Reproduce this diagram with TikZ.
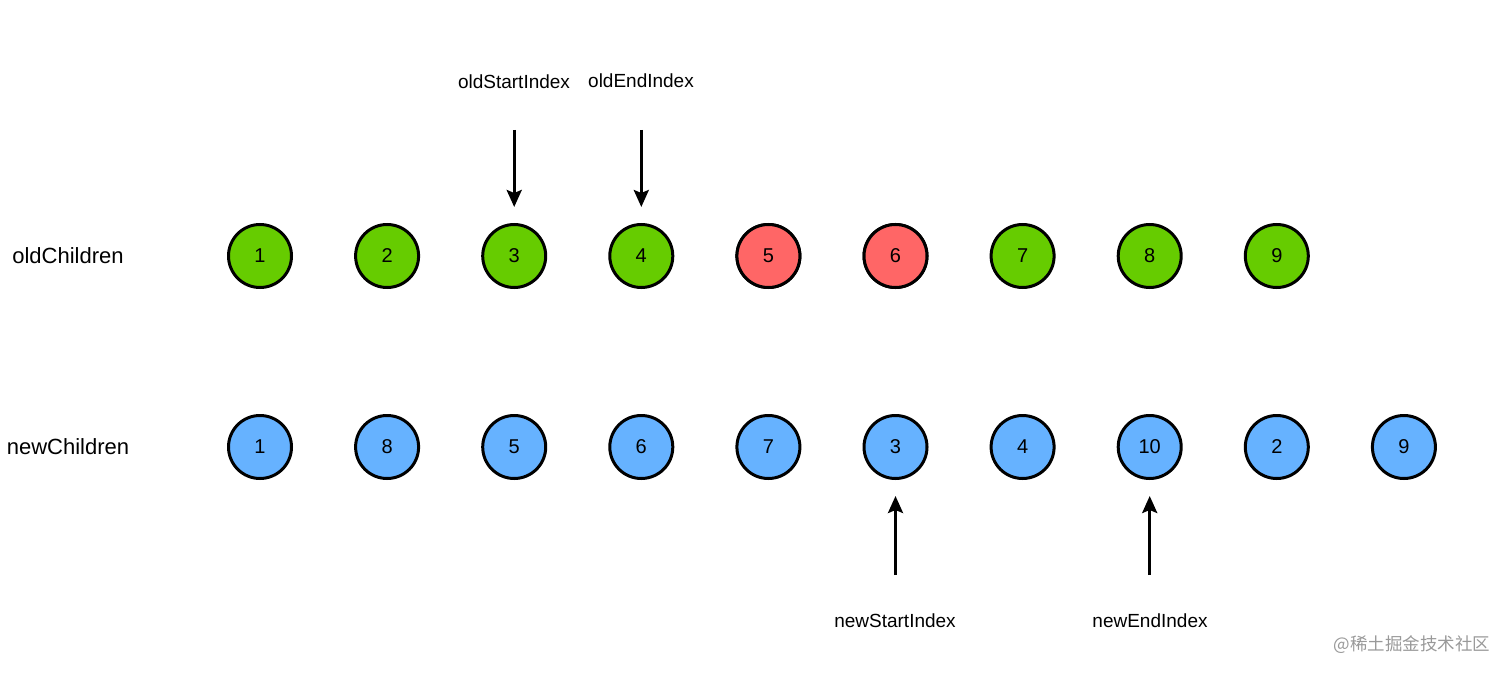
\documentclass[tikz,border=0pt]{standalone}
\usepackage{fontspec}
\setmainfont{Liberation Sans}
\newfontfamily\cjkfont{Noto Sans CJK SC}
\usetikzlibrary{arrows.meta}
\definecolor{keep}{HTML}{66CC00}
\definecolor{drop}{HTML}{FF6666}
\definecolor{fresh}{HTML}{66B2FF}
\tikzset{
  elem/.style={circle,draw,line width=3pt,minimum size=63pt,inner sep=0pt,font=\fontsize{20}{24}\selectfont},
  rowlabel/.style={font=\fontsize{22}{26}\selectfont},
  idxlabel/.style={font=\fontsize{19}{22}\selectfont},
  pointer/.style={line width=3pt,-{Stealth[length=17pt,width=15pt,inset=3pt]},shorten >=16pt}
}
\begin{document}
\begin{tikzpicture}[x=1pt,y=-1pt]
            \useasboundingbox (0,0) rectangle (1512,674);
            \node[rowlabel] (oldrow) at (68,256) {oldChildren};
            \node[rowlabel] (newrow) at (68,447) {newChildren};
            \foreach \v [count=\i] in {1,2,3,4,5,6,7,8,9}
              \node[elem,fill=keep] (o\i) at ({260+127.1*(\i-1)},256) {\v};
            \node[elem,fill=drop] at (o5) {5};
            \node[elem,fill=drop] at (o6) {6};
            \foreach \v [count=\i] in {1,8,5,6,7,3,4,10,2,9}
              \node[elem,fill=fresh] (n\i) at ({260+127.1*(\i-1)},447) {\v};
            \node[idxlabel] (os) at (514,82) {oldStartIndex};
            \node[idxlabel] (oe) at (641,81) {oldEndIndex};
            \node[idxlabel] (ns) at (895,621) {newStartIndex};
            \node[idxlabel] (ne) at (1150,621) {newEndIndex};
            \coordinate (osfrom) at (o3 |- 0,130);
            \coordinate (oefrom) at (o4 |- 0,130);
            \coordinate (nsfrom) at (n6 |- 0,575);
            \coordinate (nefrom) at (n8 |- 0,575);
            \draw[pointer] (osfrom) -- (o3);
            \draw[pointer] (oefrom) -- (o4);
            \draw[pointer] (nsfrom) -- (n6);
            \draw[pointer] (nefrom) -- (n8);
            \node[text=black!40,font=\cjkfont\fontsize{17.5}{20}\selectfont] (mark) at (1412,645) {@稀土掘金技术社区};
        \end{tikzpicture}
\end{document}
